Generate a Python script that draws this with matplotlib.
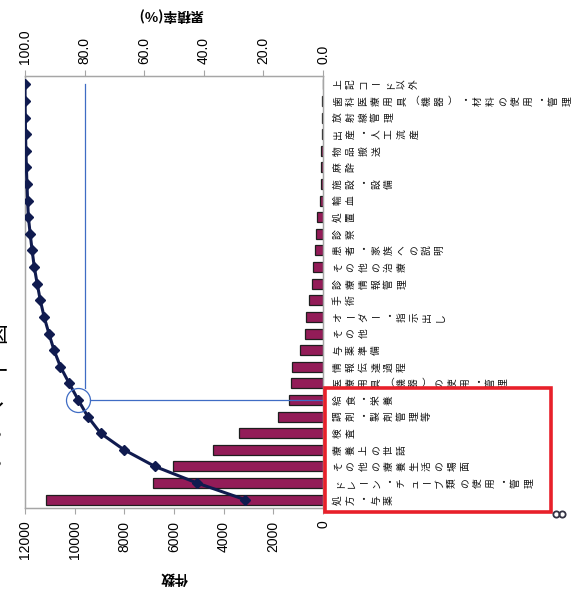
import matplotlib
matplotlib.use("Agg")
import matplotlib.pyplot as plt
import numpy as np
from matplotlib.transforms import blended_transform_factory, ScaledTranslation
from matplotlib.patches import Rectangle
from matplotlib.lines import Line2D

# Incident categories, ordered from most to least frequent (bottom to top)
categories = [
    "処方・与薬",
    "ドレーン・チューブ類の使用・管理",
    "その他の療養生活の場面",
    "療養上の世話",
    "検査",
    "調剤・製剤管理等",
    "給食・栄養",
    "医療用具（機器）の使用・管理",
    "情報伝達過程",
    "与薬準備",
    "その他",
    "オーダー・指示出し",
    "手術",
    "診療情報管理",
    "その他の治療",
    "患者・家族への説明",
    "診察",
    "処置",
    "輸血",
    "施設・設備",
    "麻酔",
    "物品搬送",
    "出産・人工流産",
    "放射線管理",
    "歯科医療用具（機器）・材料の使用・管理",
    "上記コード以外",
]
counts = [11150, 6860, 6050, 4420, 3370, 1830, 1360, 1300, 1250, 930,
          725, 685, 550, 445, 415, 310, 280, 255, 110, 95,
          80, 70, 50, 40, 30, 10]
count_ticks = [0, 2000, 4000, 6000, 8000, 10000, 12000]
pct_ticks = [0, 20, 40, 60, 80, 100]
threshold_pct = 80
highlight_idx = 6

CJK = ["Noto Sans CJK JP", "DejaVu Sans"]
LATIN = ["Liberation Sans", "DejaVu Sans"]
GREY = "#a6a6a6"

W, H = 583, 591
fig = plt.figure(figsize=(W / 100, H / 100), dpi=100)
fig.patch.set_facecolor("white")

# plot box in pixels: x 25..323, y 76..508
ax = fig.add_axes([25 / W, 1 - 508 / H, 298 / W, 432 / H])
ypos = np.arange(len(categories))
ax.barh(ypos, counts, height=0.6, color="#931c58", edgecolor="#1e1e1e",
        linewidth=0.9, zorder=2)
ax.set_xlim(12000, 0)
ax.set_ylim(-0.5, len(categories) - 0.5)
ax.set_xticks(count_ticks)
ax.set_xticklabels([str(t) for t in count_ticks], rotation=90,
                   family=LATIN, fontsize=10)
ax.set_yticks([])
ax.tick_params(axis="x", direction="out", length=4, width=0.8, color=GREY, pad=5)
for s in ax.spines.values():
    s.set_color(GREY)
    s.set_linewidth(0.9)

# cumulative percentage on the top axis
cum = np.cumsum(counts) / np.sum(counts) * 100
ax2 = ax.twiny()
ax2.set_xlim(100, 0)
ax2.set_xticks(pct_ticks)
ax2.set_xticklabels([f"{t:.1f}" for t in pct_ticks], rotation=90,
                    family=LATIN, fontsize=10)
ax2.tick_params(axis="x", direction="out", length=4, width=0.8, color=GREY, pad=5)
for s in ax2.spines.values():
    s.set_color(GREY)
    s.set_linewidth(0.9)
ax2.plot(cum, ypos, color="#101b4f", lw=2.2, marker="D", ms=5.5,
         mfc="#101b4f", mec="#101b4f", zorder=4)

# 80% guide with the circled point
px_per_pct = 298 / 100
px_per_row = 432 / len(categories)
r_px = 12
blue = "#3f6cc4"
cx, cy = cum[highlight_idx], ypos[highlight_idx]
ax2.plot([threshold_pct, threshold_pct], [ypos[-1], cy + r_px / px_per_row],
         color=blue, lw=0.9, zorder=3)
ax2.plot([cx - r_px / px_per_pct, 0], [cy, cy], color=blue, lw=0.9, zorder=3)
ax2.plot([cx], [cy], marker="o", ms=2 * r_px * 0.72, mfc="none", mec=blue,
         mew=0.9, zorder=5)

# category labels: glyphs laid along the row, each turned a quarter turn
base = blended_transform_factory(ax.transAxes, ax.transData)
upright = set("ー（）・")
for i, label in enumerate(categories):
    for j, ch in enumerate(label):
        dx = (15 + j * 12.7) / 100
        tr = base + ScaledTranslation(dx, 0, fig.dpi_scale_trans)
        ax.text(1, ypos[i], ch, transform=tr,
                rotation=0 if ch in upright else 90,
                ha="center", va="center",
                fontsize=7, family=CJK, color="#111111", clip_on=False)

# axis titles (upside down)
fig.text(174 / W, 1 - 578 / H, "件数", rotation=180, ha="center", va="center",
         fontsize=10, fontweight="bold", family=CJK)
fig.text(171 / W, 1 - 15 / H, "累積率(%)", rotation=180, ha="center",
         va="center", fontsize=10, fontweight="bold", family=CJK)

# red frame around the leading categories
fig.patches.append(Rectangle((325 / W, 1 - 512 / H), (551 - 325) / W,
                             (512 - 388) / H, transform=fig.transFigure,
                             fill=False, edgecolor="#e8202a", lw=2.6,
                             zorder=10))
for hx in (556, 562):
    fig.lines.append(Line2D([hx / W], [1 - 514 / H], transform=fig.transFigure,
                            marker="o", ms=4.5, mfc="none", mec="#333344",
                            mew=1.3, zorder=11))

# caption fragment running along the left edge
for ch, yy in [("図", 333), ("ー", 372), ("へ", 410), ("・", 437), ("・", 466)]:
    fig.text(-2 / W, 1 - yy / H, ch, rotation=0 if ch in "ー・" else 90,
             ha="center", va="center", fontsize=15, family=CJK)

fig.savefig("out.png", dpi=100)
